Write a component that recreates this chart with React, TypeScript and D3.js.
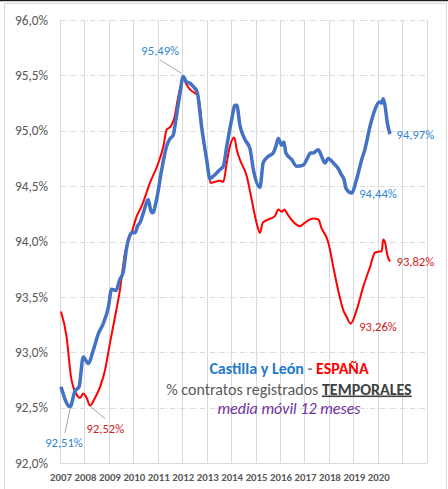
import { useRef, useEffect } from "react";
import * as d3 from "d3";

// 12-month moving average, % temporary contracts — [year, value]
const castillaLeon: [number, number][] = [
  [2007.04, 92.69], [2007.41, 92.51], [2007.61, 92.65], [2007.78, 92.69], [2007.95, 92.96],
  [2008.16, 92.9], [2008.36, 93.02], [2008.57, 93.17], [2008.77, 93.26], [2008.98, 93.41],
  [2009.11, 93.57], [2009.29, 93.56], [2009.45, 93.66], [2009.58, 93.72], [2009.73, 93.95],
  [2009.93, 94.08], [2010.07, 94.08], [2010.17, 94.14], [2010.27, 94.17], [2010.41, 94.26],
  [2010.61, 94.38], [2010.7, 94.29], [2010.79, 94.26], [2010.95, 94.38], [2011.16, 94.65],
  [2011.36, 94.86], [2011.5, 94.93], [2011.63, 94.96], [2011.74, 95.1], [2011.91, 95.34],
  [2012.04, 95.49], [2012.18, 95.44], [2012.32, 95.43], [2012.45, 95.4], [2012.61, 95.35],
  [2012.79, 95.04], [2013.0, 94.74], [2013.13, 94.57], [2013.27, 94.59], [2013.41, 94.62],
  [2013.54, 94.65], [2013.68, 94.68], [2013.82, 94.86], [2014.02, 95.1], [2014.16, 95.23],
  [2014.23, 95.23], [2014.36, 95.05], [2014.57, 94.92], [2014.77, 94.84], [2014.91, 94.65],
  [2015.18, 94.49], [2015.31, 94.71], [2015.52, 94.77], [2015.72, 94.8], [2015.83, 94.86],
  [2015.93, 94.93], [2016.07, 94.87], [2016.16, 94.9], [2016.24, 94.8], [2016.48, 94.74],
  [2016.68, 94.68], [2016.95, 94.69], [2017.09, 94.74], [2017.25, 94.8], [2017.36, 94.8],
  [2017.56, 94.83], [2017.7, 94.77], [2017.84, 94.71], [2017.97, 94.75], [2018.18, 94.71],
  [2018.38, 94.66], [2018.52, 94.6], [2018.62, 94.56], [2018.7, 94.48], [2018.93, 94.44],
  [2019.13, 94.56], [2019.34, 94.74], [2019.47, 94.83], [2019.68, 95.04], [2019.88, 95.19],
  [2020.06, 95.26], [2020.16, 95.25], [2020.22, 95.29], [2020.3, 95.22], [2020.39, 95.07],
  [2020.5, 94.97],
];

const espana: [number, number][] = [
  [2007.04, 93.37], [2007.27, 93.14], [2007.45, 92.78], [2007.68, 92.62], [2007.82, 92.59],
  [2007.95, 92.63], [2008.09, 92.59], [2008.23, 92.52], [2008.43, 92.59], [2008.64, 92.69],
  [2008.84, 92.84], [2009.04, 93.08], [2009.25, 93.32], [2009.45, 93.56], [2009.66, 93.9],
  [2009.93, 94.08], [2010.14, 94.23], [2010.34, 94.32], [2010.68, 94.53], [2011.02, 94.71],
  [2011.23, 94.86], [2011.36, 95.01], [2011.53, 95.04], [2011.67, 95.11], [2011.84, 95.31],
  [2012.04, 95.47], [2012.15, 95.43], [2012.29, 95.38], [2012.66, 95.31], [2012.86, 94.92],
  [2013.06, 94.65], [2013.16, 94.53], [2013.34, 94.54], [2013.54, 94.55], [2013.68, 94.54],
  [2013.82, 94.71], [2013.95, 94.86], [2014.13, 94.94], [2014.23, 94.83], [2014.36, 94.74],
  [2014.64, 94.59], [2014.84, 94.38], [2015.04, 94.17], [2015.18, 94.08], [2015.29, 94.17],
  [2015.52, 94.2], [2015.79, 94.23], [2015.93, 94.29], [2016.07, 94.27], [2016.17, 94.29],
  [2016.33, 94.24], [2016.54, 94.18], [2016.81, 94.14], [2017.01, 94.17], [2017.22, 94.2],
  [2017.36, 94.21], [2017.57, 94.2], [2017.7, 94.12], [2017.9, 94.04], [2018.0, 93.97],
  [2018.18, 93.77], [2018.38, 93.56], [2018.59, 93.38], [2018.73, 93.32], [2018.89, 93.26],
  [2019.13, 93.38], [2019.4, 93.59], [2019.68, 93.77], [2019.88, 93.9], [2020.09, 93.91],
  [2020.16, 93.91], [2020.22, 94.02], [2020.3, 93.99], [2020.39, 93.88], [2020.5, 93.82],
];

const yTicks = [92, 92.5, 93, 93.5, 94, 94.5, 95, 95.5, 96];
const yearLabels = [2007, 2008, 2009, 2010, 2011, 2012, 2013, 2014, 2015, 2016, 2017, 2018, 2019, 2020];
const yearGrid = d3.range(2007, 2023);

// highlighted values
const callouts: { t: number; v: number; label: string; s: "cl" | "es" }[] = [
  { t: 2012.04, v: 95.49, label: "95,49%", s: "cl" },
  { t: 2007.41, v: 92.51, label: "92,51%", s: "cl" },
  { t: 2008.23, v: 92.52, label: "92,52%", s: "es" },
  { t: 2020.5, v: 94.97, label: "94,97%", s: "cl" },
  { t: 2018.93, v: 94.44, label: "94,44%", s: "cl" },
  { t: 2020.5, v: 93.82, label: "93,82%", s: "es" },
  { t: 2018.89, v: 93.26, label: "93,26%", s: "es" },
];

const FONT = "Carlito, Calibri, 'Liberation Sans', Arial, sans-serif";

export default function App() {
  const svgRef = useRef<SVGSVGElement>(null);

  useEffect(() => {
    const svg = d3.select(svgRef.current);
    svg.selectAll("*").remove();

    const width = 448;
    const height = 489;

    const x = d3.scaleLinear().domain([2007, 2022]).range([60, 426.7]);
    const y = d3.scaleLinear().domain([92, 96]).range([463.3, 20]);

    svg.attr("width", width).attr("height", height).style("font-family", FONT);

    svg.append("rect").attr("width", width).attr("height", height).attr("fill", "#fff");

    // chart frame
    svg.append("rect")
      .attr("x", 4.5).attr("y", 3.5).attr("width", 442).attr("height", 495)
      .attr("fill", "none").attr("stroke", "#d9d9d9");
    svg.append("line")
      .attr("x1", 0).attr("x2", width).attr("y1", 0.5).attr("y2", 0.5)
      .attr("stroke", "#222").attr("stroke-width", 1.5);

    // horizontal grid (dash-dot)
    svg.append("g")
      .selectAll("line")
      .data(yTicks.slice(1))
      .enter()
      .append("line")
      .attr("x1", x(2007)).attr("x2", 425)
      .attr("y1", d => Math.round(y(d)) + 0.5).attr("y2", d => Math.round(y(d)) + 0.5)
      .attr("stroke", "#d9d9d9")
      .attr("stroke-dasharray", "5,2,1,2");

    // vertical grid
    svg.append("g")
      .selectAll("line")
      .data(yearGrid)
      .enter()
      .append("line")
      .attr("x1", d => Math.round(x(d)) + 0.5).attr("x2", d => Math.round(x(d)) + 0.5)
      .attr("y1", y(96)).attr("y2", y(92))
      .attr("stroke", "#d9d9d9");

    // x axis line
    svg.append("line")
      .attr("x1", x(2007)).attr("x2", x(2022))
      .attr("y1", Math.round(y(92)) + 0.5).attr("y2", Math.round(y(92)) + 0.5)
      .attr("stroke", "#d9d9d9");

    // y labels
    svg.append("g")
      .selectAll("text")
      .data(yTicks)
      .enter()
      .append("text")
      .attr("x", 48)
      .attr("y", d => y(d) + 4.5)
      .attr("text-anchor", "end")
      .attr("fill", "#595959")
      .style("font-size", "13.3px")
      .text(d => d.toFixed(1).replace(".", ",") + "%");

    // x labels
    svg.append("g")
      .selectAll("text")
      .data(yearLabels)
      .enter()
      .append("text")
      .attr("x", d => x(d) + 1)
      .attr("y", 481)
      .attr("text-anchor", "middle")
      .attr("fill", "#595959")
      .style("font-size", "10.8px")
      .style("font-weight", "bold")
      .text(d => d);

    const line = d3
      .line<[number, number]>()
      .x(d => x(d[0]))
      .y(d => y(d[1]))
      .curve(d3.curveMonotoneX);

    svg.append("path")
      .datum(espana)
      .attr("fill", "none")
      .attr("stroke", "#ff0000")
      .attr("stroke-width", 2)
      .attr("stroke-linejoin", "round")
      .attr("d", line);

    svg.append("path")
      .datum(castillaLeon)
      .attr("fill", "none")
      .attr("stroke", "#4472c4")
      .attr("stroke-width", 3.5)
      .attr("stroke-linejoin", "round")
      .attr("d", line);

    // callouts
    const offsets: Record<string, { dx: number; dy: number; anchor: string; lead?: [number, number, number, number] }> = {
      "95,49%": { dx: -23, dy: -21.5, anchor: "middle", lead: [-23, -16.5, -1.5, -3] },
      "92,51%": { dx: -6, dy: 40.5, anchor: "middle", lead: [-5, 26, 0, 2] },
      "92,52%": { dx: -3.5, dy: 27, anchor: "start", lead: [0.5, 1, 15, 13] },
      "94,97%": { dx: 6.5, dy: 4.5, anchor: "start" },
      "94,44%": { dx: 7.5, dy: 5, anchor: "start" },
      "93,82%": { dx: 6.5, dy: 4.5, anchor: "start" },
      "93,26%": { dx: 8.5, dy: 7, anchor: "start" },
    };

    callouts.forEach(c => {
      const px = x(c.t);
      const py = y(c.v);
      const o = offsets[c.label];
      if (o.lead) {
        svg.append("line")
          .attr("x1", px + o.lead[0]).attr("y1", py + o.lead[1])
          .attr("x2", px + o.lead[2]).attr("y2", py + o.lead[3])
          .attr("stroke", "#a6a6a6").attr("stroke-width", 1);
      }
      svg.append("text")
        .attr("x", px + o.dx)
        .attr("y", py + o.dy)
        .attr("text-anchor", o.anchor)
        .attr("fill", c.s === "cl" ? "#2e86d0" : "#d01c1c")
        .style("font-size", "12.6px")
        .text(c.label);
    });

    // title block
    const t1 = svg.append("text")
      .attr("x", 289).attr("y", 373.5)
      .attr("text-anchor", "middle")
      .style("font-size", "16px")
      .style("font-weight", "bold");
    t1.append("tspan").attr("fill", "#1f7bc8").text("Castilla y León");
    t1.append("tspan").attr("fill", "#7f7f7f").text(" - ");
    t1.append("tspan").attr("fill", "#ff0000").text("ESPAÑA");

    const t2 = svg.append("text")
      .attr("x", 289).attr("y", 394.5)
      .attr("text-anchor", "middle")
      .attr("fill", "#595959")
      .style("font-size", "16px");
    t2.append("tspan").text("% contratos registrados ");
    t2.append("tspan")
      .attr("fill", "#404040")
      .style("font-weight", "bold")
      .style("text-decoration", "underline")
      .text("TEMPORALES");

    svg.append("text")
      .attr("x", 289).attr("y", 414)
      .attr("text-anchor", "middle")
      .attr("fill", "#7030a0")
      .style("font-size", "16px")
      .style("font-style", "italic")
      .text("media móvil 12 meses");
  }, []);

  return (
    <svg
      ref={svgRef}
      style={{ position: "absolute", left: 0, top: 0, display: "block" }}
    />
  );
}
